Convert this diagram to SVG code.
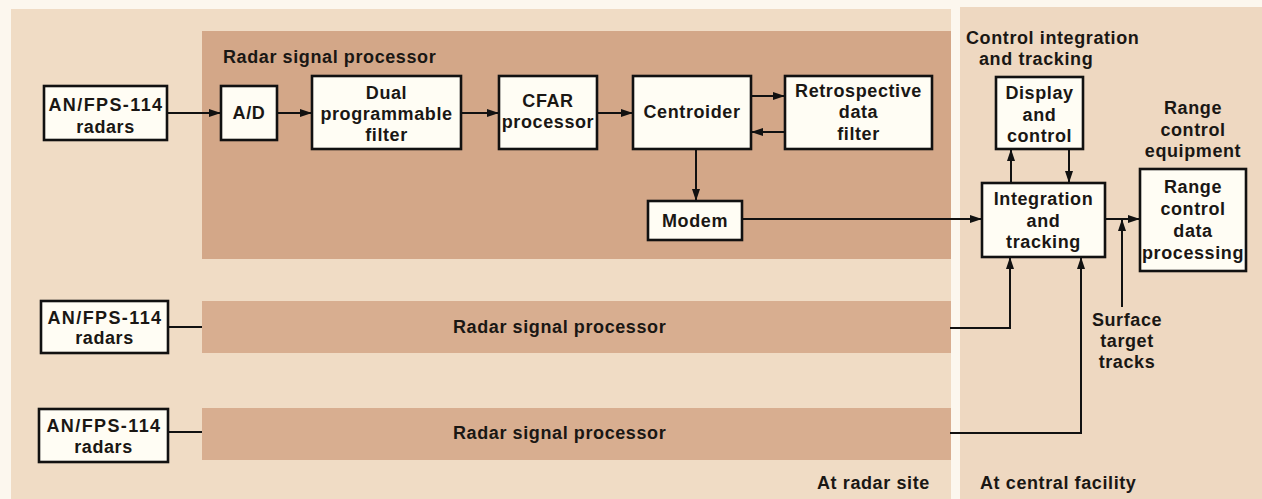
<svg xmlns="http://www.w3.org/2000/svg" width="1262" height="499" viewBox="0 0 1262 499">
<defs>
<style>
text{font-family:"Liberation Sans",Arial,sans-serif;font-weight:bold;font-size:18px;fill:#1a1714;letter-spacing:0.6px}
.c{text-anchor:middle}
.w{letter-spacing:1.4px}
.box{fill:#fffdf4;stroke:#111;stroke-width:2.6}
.ln{fill:none;stroke:#111;stroke-width:2}
.band{fill:#d3a788}
.band2{fill:#d8ae90}
</style>
<marker id="ah" markerUnits="userSpaceOnUse" markerWidth="13" markerHeight="10" refX="12" refY="5" orient="auto">
<path d="M0,1 L12,5 L0,9 Z" fill="#111"/>
</marker>
</defs>
<rect x="0" y="0" width="1262" height="499" fill="#fcf7ee"/>
<rect x="11" y="9" width="940" height="490" fill="#f0dcc5"/>
<rect x="960" y="7" width="302" height="492" fill="#eed8c1"/>
<rect class="band" x="202" y="31" width="749" height="228"/>
<rect class="band2" x="202" y="301" width="749" height="52"/>
<rect class="band2" x="202" y="408" width="749" height="52"/>

<g id="labels">
<text x="223" y="63">Radar signal processor</text>
<text x="453" y="333">Radar signal processor</text>
<text x="453" y="439">Radar signal processor</text>
<text x="966" y="44">Control integration</text>
<text x="979" y="65">and tracking</text>
<text class="c" x="1193" y="114">Range</text>
<text class="c" x="1193" y="136">control</text>
<text class="c" x="1193" y="157">equipment</text>
<text class="c" x="1127" y="326">Surface</text>
<text class="c" x="1127" y="347">target</text>
<text class="c" x="1127" y="368">tracks</text>
<text x="817" y="489">At radar site</text>
<text x="980" y="489">At central facility</text>
</g>

<g id="connectors">
<path class="ln" d="M167,113 H221" marker-end="url(#ah)"/>
<path class="ln" d="M277,113 H312" marker-end="url(#ah)"/>
<path class="ln" d="M461,113 H499" marker-end="url(#ah)"/>
<path class="ln" d="M597,113 H633" marker-end="url(#ah)"/>
<path class="ln" d="M751,96 H785" marker-end="url(#ah)"/>
<path class="ln" d="M785,132 H751" marker-end="url(#ah)"/>
<path class="ln" d="M696,149 V201" marker-end="url(#ah)"/>
<path class="ln" d="M742,219 H982" marker-end="url(#ah)"/>
<path class="ln" d="M1011,183 V149" marker-end="url(#ah)"/>
<path class="ln" d="M1069,149 V183" marker-end="url(#ah)"/>
<path class="ln" d="M1105,219 H1140" marker-end="url(#ah)"/>
<path class="ln" d="M1122,307 V219" marker-end="url(#ah)"/>
<path class="ln" d="M168,327 H202"/>
<path class="ln" d="M168,432 H202"/>
<path class="ln" d="M950,328 H1010 V257" marker-end="url(#ah)"/>
<path class="ln" d="M950,433 H1081 V257" marker-end="url(#ah)"/>
</g>

<g id="radar1"><rect class="box" x="44" y="86" width="123" height="54"/><text class="c w" x="106" y="111">AN/FPS-114</text><text class="c" x="105.5" y="133">radars</text></g>
<g id="radar2"><rect class="box" x="41" y="301" width="127" height="52"/><text class="c w" x="105" y="324">AN/FPS-114</text><text class="c" x="104.5" y="344">radars</text></g>
<g id="radar3"><rect class="box" x="39" y="409" width="129" height="53"/><text class="c w" x="104" y="432">AN/FPS-114</text><text class="c" x="103.5" y="453">radars</text></g>
<g id="ad"><rect class="box" x="221" y="86" width="56" height="54"/><text class="c" x="249" y="119">A/D</text></g>
<g id="dpf"><rect class="box" x="312" y="76" width="149" height="73"/><text class="c" x="386.5" y="99">Dual</text><text class="c" x="386.5" y="120">programmable</text><text class="c" x="386.5" y="141">filter</text></g>
<g id="cfar"><rect class="box" x="499" y="76" width="98" height="73"/><text class="c" x="548" y="107">CFAR</text><text class="c" x="548" y="128">processor</text></g>
<g id="centroider"><rect class="box" x="633" y="76" width="118" height="73"/><text class="c" x="692" y="118">Centroider</text></g>
<g id="retro"><rect class="box" x="785" y="76" width="147" height="73"/><text class="c" x="858.5" y="97">Retrospective</text><text class="c" x="858.5" y="118">data</text><text class="c" x="858.5" y="140">filter</text></g>
<g id="modem"><rect class="box" x="648" y="201" width="94" height="39"/><text class="c" x="695" y="227">Modem</text></g>
<g id="display"><rect class="box" x="996" y="77" width="87" height="72"/><text class="c" x="1039.5" y="99">Display</text><text class="c" x="1039.5" y="121">and</text><text class="c" x="1039.5" y="142">control</text></g>
<g id="integration"><rect class="box" x="982" y="183" width="123" height="74"/><text class="c" x="1043.5" y="205">Integration</text><text class="c" x="1043.5" y="227">and</text><text class="c" x="1043.5" y="248">tracking</text></g>
<g id="rangecontrol"><rect class="box" x="1140" y="169" width="106" height="102"/><text class="c" x="1193" y="193">Range</text><text class="c" x="1193" y="215">control</text><text class="c" x="1193" y="237">data</text><text class="c" x="1193" y="259">processing</text></g>
</svg>
